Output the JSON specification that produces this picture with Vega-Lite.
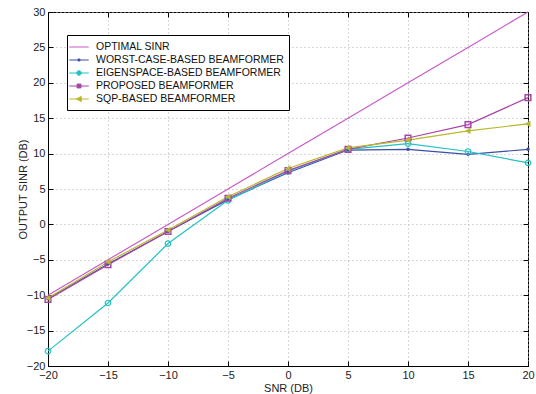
{
  "$schema": "https://vega.github.io/schema/vega-lite/v6.json",
  "width": 480,
  "height": 354,
  "autosize": {"type": "none"},
  "padding": {"left": 48, "top": 12, "right": 8, "bottom": 28},
  "background": "white",
  "config": {
    "font": "Liberation Sans",
    "view": {"stroke": "black", "strokeWidth": 1},
    "axis": {
      "domainColor": "black",
      "tickColor": "black",
      "labelColor": "#222",
      "titleColor": "#222",
      "labelFontSize": 11,
      "titleFontSize": 11,
      "titleFontWeight": "normal",
      "grid": true,
      "gridColor": "#b0b0b0",
      "gridDash": [1, 3],
      "gridWidth": 1,
      "tickSize": -5,
      "labelPadding": 8,
      "labelFlush": false
    }
  },
  "resolve": {"axis": {"x": "independent", "y": "independent"}},
  "data": {
    "values": [
      {"series": "OPTIMAL SINR", "snr": -20, "sinr": -10},
      {"series": "OPTIMAL SINR", "snr": -15, "sinr": -5},
      {"series": "OPTIMAL SINR", "snr": -10, "sinr": 0},
      {"series": "OPTIMAL SINR", "snr": -5, "sinr": 5},
      {"series": "OPTIMAL SINR", "snr": 0, "sinr": 10},
      {"series": "OPTIMAL SINR", "snr": 5, "sinr": 15},
      {"series": "OPTIMAL SINR", "snr": 10, "sinr": 20},
      {"series": "OPTIMAL SINR", "snr": 15, "sinr": 25},
      {"series": "OPTIMAL SINR", "snr": 20, "sinr": 30},
      {"series": "WORST-CASE-BASED BEAMFORMER", "snr": -20, "sinr": -10.5},
      {"series": "WORST-CASE-BASED BEAMFORMER", "snr": -15, "sinr": -5.6},
      {"series": "WORST-CASE-BASED BEAMFORMER", "snr": -10, "sinr": -1.0},
      {"series": "WORST-CASE-BASED BEAMFORMER", "snr": -5, "sinr": 3.5},
      {"series": "WORST-CASE-BASED BEAMFORMER", "snr": 0, "sinr": 7.3},
      {"series": "WORST-CASE-BASED BEAMFORMER", "snr": 5, "sinr": 10.5},
      {"series": "WORST-CASE-BASED BEAMFORMER", "snr": 10, "sinr": 10.6},
      {"series": "WORST-CASE-BASED BEAMFORMER", "snr": 15, "sinr": 9.9},
      {"series": "WORST-CASE-BASED BEAMFORMER", "snr": 20, "sinr": 10.6},
      {"series": "EIGENSPACE-BASED BEAMFORMER", "snr": -20, "sinr": -17.9},
      {"series": "EIGENSPACE-BASED BEAMFORMER", "snr": -15, "sinr": -11.1},
      {"series": "EIGENSPACE-BASED BEAMFORMER", "snr": -10, "sinr": -2.7},
      {"series": "EIGENSPACE-BASED BEAMFORMER", "snr": -5, "sinr": 3.4},
      {"series": "EIGENSPACE-BASED BEAMFORMER", "snr": 0, "sinr": 7.5},
      {"series": "EIGENSPACE-BASED BEAMFORMER", "snr": 5, "sinr": 10.6},
      {"series": "EIGENSPACE-BASED BEAMFORMER", "snr": 10, "sinr": 11.4},
      {"series": "EIGENSPACE-BASED BEAMFORMER", "snr": 15, "sinr": 10.3},
      {"series": "EIGENSPACE-BASED BEAMFORMER", "snr": 20, "sinr": 8.7},
      {"series": "PROPOSED BEAMFORMER", "snr": -20, "sinr": -10.6},
      {"series": "PROPOSED BEAMFORMER", "snr": -15, "sinr": -5.7},
      {"series": "PROPOSED BEAMFORMER", "snr": -10, "sinr": -1.0},
      {"series": "PROPOSED BEAMFORMER", "snr": -5, "sinr": 3.7},
      {"series": "PROPOSED BEAMFORMER", "snr": 0, "sinr": 7.6},
      {"series": "PROPOSED BEAMFORMER", "snr": 5, "sinr": 10.6},
      {"series": "PROPOSED BEAMFORMER", "snr": 10, "sinr": 12.2},
      {"series": "PROPOSED BEAMFORMER", "snr": 15, "sinr": 14.1},
      {"series": "PROPOSED BEAMFORMER", "snr": 20, "sinr": 17.9},
      {"series": "SQP-BASED BEAMFORMER", "snr": -20, "sinr": -10.4},
      {"series": "SQP-BASED BEAMFORMER", "snr": -15, "sinr": -5.3},
      {"series": "SQP-BASED BEAMFORMER", "snr": -10, "sinr": -0.8},
      {"series": "SQP-BASED BEAMFORMER", "snr": -5, "sinr": 3.9},
      {"series": "SQP-BASED BEAMFORMER", "snr": 0, "sinr": 7.9},
      {"series": "SQP-BASED BEAMFORMER", "snr": 5, "sinr": 10.8},
      {"series": "SQP-BASED BEAMFORMER", "snr": 10, "sinr": 11.9},
      {"series": "SQP-BASED BEAMFORMER", "snr": 15, "sinr": 13.2},
      {"series": "SQP-BASED BEAMFORMER", "snr": 20, "sinr": 14.2}
    ]
  },
  "layer": [
    {
      "mark": {"type": "line", "strokeWidth": 1.2},
      "encoding": {
        "x": {
          "field": "snr", "type": "quantitative",
          "scale": {"domain": [-20, 20], "nice": false},
          "axis": {"values": [-20, -15, -10, -5, 0, 5, 10, 15, 20], "title": "SNR (DB)", "titlePadding": 2}
        },
        "y": {
          "field": "sinr", "type": "quantitative",
          "scale": {"domain": [-20, 30], "nice": false},
          "axis": {"values": [-20, -15, -10, -5, 0, 5, 10, 15, 20, 25, 30], "title": "OUTPUT SINR (DB)", "titlePadding": -2}
        },
        "color": {
          "field": "series", "type": "nominal",
          "scale": {
            "domain": ["OPTIMAL SINR", "WORST-CASE-BASED BEAMFORMER", "EIGENSPACE-BASED BEAMFORMER", "PROPOSED BEAMFORMER", "SQP-BASED BEAMFORMER"],
            "range": ["#c95bc9", "#3a4fa6", "#22c2c2", "#a845a8", "#b8b82c"]
          },
          "legend": {
            "title": null,
            "orient": "none",
            "legendX": 19,
            "legendY": 23,
            "padding": 5,
            "fillColor": "white",
            "strokeColor": "black",
            "labelFontSize": 10.5,
            "labelColor": "#111",
            "labelLimit": 300,
            "symbolSize": 169,
            "rowPadding": 0,
            "labelOffset": 10,
            "symbolStrokeWidth": 1,
            "labelExpr": "datum.value === 'WORST-CASE-BASED BEAMFORMER' ? '\u00a0' + datum.label : datum.label",
            "encode": {
              "symbols": {
                "update": {
                  "shape": {"signal": "datum.value === 'OPTIMAL SINR' ? 'M-1.5,0H1.5' : datum.value === 'WORST-CASE-BASED BEAMFORMER' ? 'M-1.5,0H1.5M-0.18,0A0.18,0.18 0 1,0 0.18,0A0.18,0.18 0 1,0 -0.18,0Z' : datum.value === 'EIGENSPACE-BASED BEAMFORMER' ? 'M-1.5,0H-0.35M0.35,0H1.5M-0.35,0A0.35,0.35 0 1,0 0.35,0A0.35,0.35 0 1,0 -0.35,0Z' : datum.value === 'PROPOSED BEAMFORMER' ? 'M-1.5,0H-0.3M0.3,0H1.5M-0.3,-0.3H0.3V0.3H-0.3Z' : 'M-1.5,0H1.5M-0.4,0L0.35,-0.4L0.35,0.4Z'"},
                  "fill": {"signal": "datum.value === 'EIGENSPACE-BASED BEAMFORMER' || datum.value === 'OPTIMAL SINR' || datum.value === 'PROPOSED BEAMFORMER' ? 'transparent' : scale('color', datum.value)"},
                  "stroke": {"signal": "scale('color', datum.value)"},
                  "strokeWidth": {"value": 1},
                  "opacity": {"value": 1}
                }
              }
            }
          }
        }
      }
    },
    {
      "transform": [{"filter": "datum.series === 'WORST-CASE-BASED BEAMFORMER'"}],
      "mark": {"type": "point", "shape": "circle", "filled": true, "size": 12, "opacity": 1},
      "encoding": {
        "x": {"field": "snr", "type": "quantitative", "axis": null},
        "y": {"field": "sinr", "type": "quantitative", "axis": null},
        "color": {"field": "series", "type": "nominal"}
      }
    },
    {
      "transform": [{"filter": "datum.series === 'EIGENSPACE-BASED BEAMFORMER'"}],
      "mark": {"type": "point", "shape": "circle", "filled": false, "size": 30, "strokeWidth": 1.2, "opacity": 1},
      "encoding": {
        "x": {"field": "snr", "type": "quantitative", "axis": null},
        "y": {"field": "sinr", "type": "quantitative", "axis": null},
        "color": {"field": "series", "type": "nominal"}
      }
    },
    {
      "transform": [{"filter": "datum.series === 'PROPOSED BEAMFORMER'"}],
      "mark": {"type": "point", "shape": "square", "filled": false, "size": 32, "strokeWidth": 1.5, "opacity": 1},
      "encoding": {
        "x": {"field": "snr", "type": "quantitative", "axis": null},
        "y": {"field": "sinr", "type": "quantitative", "axis": null},
        "color": {"field": "series", "type": "nominal"}
      }
    },
    {
      "transform": [{"filter": "datum.series === 'SQP-BASED BEAMFORMER'"}],
      "mark": {"type": "point", "shape": "M-1,0L0.8,-1L0.8,1Z", "filled": true, "size": 40, "opacity": 1},
      "encoding": {
        "x": {"field": "snr", "type": "quantitative", "axis": {"orient": "top", "values": [-20, -15, -10, -5, 0, 5, 10, 15, 20], "labels": false, "grid": false, "domain": false, "title": null}},
        "y": {"field": "sinr", "type": "quantitative", "axis": {"orient": "right", "values": [-20, -15, -10, -5, 0, 5, 10, 15, 20, 25, 30], "labels": false, "grid": false, "domain": false, "title": null}},
        "color": {"field": "series", "type": "nominal"}
      }
    }
  ]
}
